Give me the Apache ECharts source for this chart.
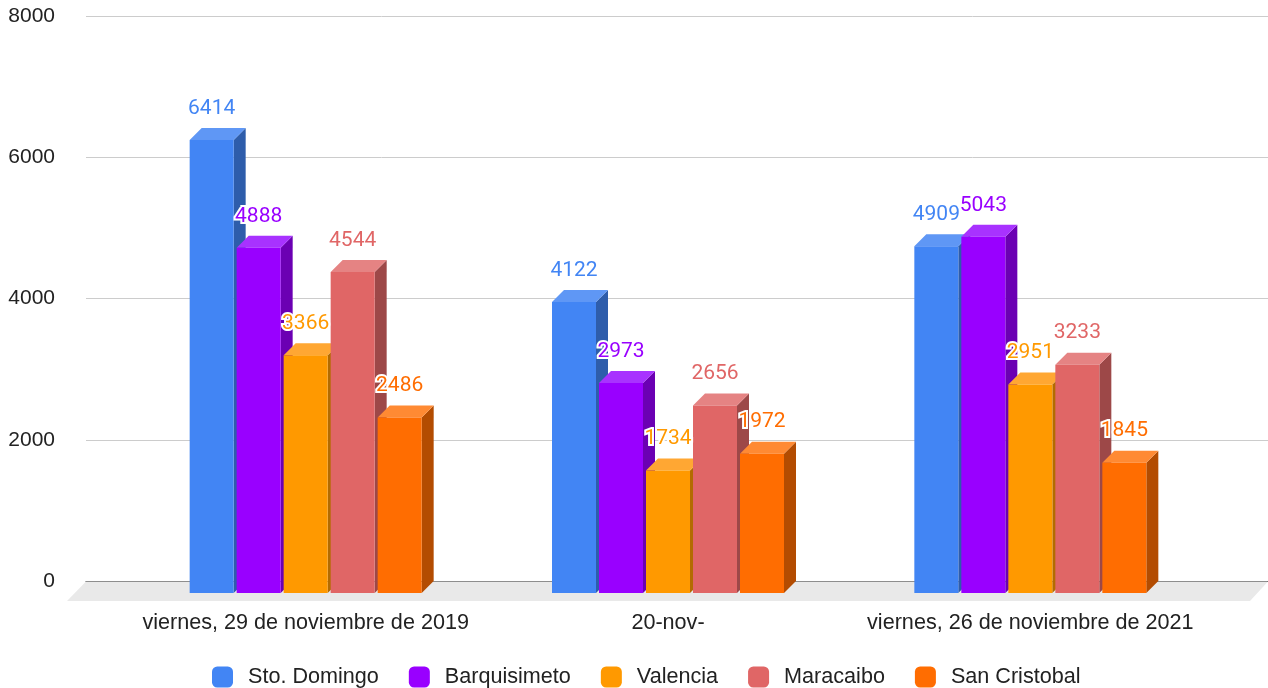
<!DOCTYPE html>
<html>
<head>
    <meta charset="utf-8">
    <title>ECharts</title>
    <script src="https://cdn.jsdelivr.net/npm/echarts@6/dist/echarts.min.js"></script>
    <style>
        html, body { margin: 0; padding: 0; background: #fff; }
    </style>
</head>
<body>
<div id="main" style="width: 1268px;height:688px;"></div>
<script type="text/javascript">
    // datos
    var categories = ['viernes, 29 de noviembre de 2019', '20-nov-', 'viernes, 26 de noviembre de 2021'];
    var names = ['Sto. Domingo', 'Barquisimeto', 'Valencia', 'Maracaibo', 'San Cristobal'];
    var stoDomingo = [6414, 4122, 4909];
    var barquisimeto = [4888, 2973, 5043];
    var valencia = [3366, 1734, 2951];
    var maracaibo = [4544, 2656, 3233];
    var sanCristobal = [2486, 1972, 1845];
    var yTicks = [0, 2000, 4000, 6000, 8000];

    var frontColors = ['#4285f4', '#9900ff', '#ff9900', '#e06666', '#ff6d01'];
    var topColors = ['#5f97f5', '#a832ff', '#ffa733', '#e58383', '#ff8a33'];
    var sideColors = ['#2e5dab', '#6b00b3', '#b36b00', '#9d4848', '#b34c01'];

    var BAR_W = 44, STEP = 47, DEPTH = 12;

    function makeSeries(i, values) {
        return {
            name: names[i],
            type: 'custom',
            xAxisIndex: 1,
            yAxisIndex: 1,
            itemStyle: { color: frontColors[i] },
            data: values.map(function (v, k) { return [k, v]; }),
            renderItem: function (params, api) {
                var k = api.value(0), v = api.value(1);
                var p = api.coord([k, v]);
                var p0 = api.coord([k, 0]);
                var x0 = p[0] + (i - 2) * STEP - BAR_W / 2;
                var x1 = x0 + BAR_W;
                var yt = p[1] + DEPTH;
                var yb = p0[1] + DEPTH;
                return {
                    type: 'group',
                    children: [
                        {
                            type: 'polygon',
                            shape: { points: [[x1, yt], [x1 + DEPTH, yt - DEPTH], [x1 + DEPTH, yb - DEPTH], [x1, yb]] },
                            style: { fill: sideColors[i] }
                        },
                        {
                            type: 'polygon',
                            shape: { points: [[x0, yt], [x1, yt], [x1 + DEPTH, yt - DEPTH], [x0 + DEPTH, yt - DEPTH]] },
                            style: { fill: topColors[i] }
                        },
                        {
                            type: 'rect',
                            shape: { x: x0, y: yt, width: BAR_W, height: yb - yt },
                            style: { fill: frontColors[i] }
                        },
                        {
                            type: 'text',
                            z2: 10,
                            x: x0 + BAR_W / 2,
                            y: p[1] - 19.5,
                            style: {
                                text: String(v),
                                fill: frontColors[i],
                                font: '21px Roboto',
                                align: 'center',
                                verticalAlign: 'middle',
                                stroke: '#fff',
                                lineWidth: 4
                            }
                        }
                    ]
                };
            }
        };
    }

    var myChart = echarts.init(document.getElementById('main'));
    var option = {
        animation: false,
        textStyle: { fontFamily: 'Liberation Sans, Arial, sans-serif' },
        grid: [
            { left: 86, right: 0, top: 16, bottom: 107 },
            { left: 124.5, right: 56.5, top: 16, bottom: 107 }
        ],
        graphic: [{
            type: 'polygon',
            z: 1,
            shape: { points: [[86, 581.5], [1268, 581.5], [1250, 601], [67, 601]] },
            style: { fill: '#e9e9e9' }
        }],
        legend: {
            left: 212,
            top: 666,
            padding: 0,
            itemWidth: 21,
            itemHeight: 21,
            itemGap: 30,
            icon: 'roundRect',
            textStyle: { fontSize: 21.6, color: '#222', padding: [0, 0, 0, 10] },
            data: names
        },
        xAxis: [
            {
                gridIndex: 0, type: 'category', data: [''],
                axisLine: { lineStyle: { color: '#333', width: 1 } },
                axisTick: { show: false }, axisLabel: { show: false }
            },
            {
                gridIndex: 1, type: 'category', data: categories,
                axisLine: { show: false }, axisTick: { show: false },
                axisLabel: { interval: 0, margin: 31, fontSize: 21.6, color: '#222' }
            }
        ],
        yAxis: [
            {
                gridIndex: 0, type: 'value', min: yTicks[0], max: yTicks[yTicks.length - 1], interval: 2000,
                axisLine: { show: false }, axisTick: { show: false },
                axisLabel: { margin: 31, fontSize: 21, color: '#222', formatter: function (v) { return String(v); } },
                splitLine: { lineStyle: { color: '#cccccc' } }
            },
            {
                gridIndex: 1, type: 'value', min: yTicks[0], max: yTicks[yTicks.length - 1], interval: 2000,
                show: false, splitLine: { show: false }
            }
        ],
        series: [
            makeSeries(0, stoDomingo),
            makeSeries(1, barquisimeto),
            makeSeries(2, valencia),
            makeSeries(3, maracaibo),
            makeSeries(4, sanCristobal)
        ]
    };
    myChart.setOption(option);
</script>
</body>
</html>
